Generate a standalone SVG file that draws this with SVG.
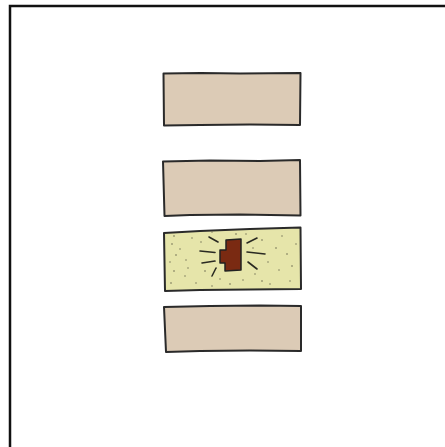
<svg xmlns="http://www.w3.org/2000/svg" width="445" height="447" viewBox="0 0 445 447">
<style>
.box{fill:#dccbb6;stroke:#2a2a2a;stroke-width:2;stroke-linejoin:round}
.ray{stroke:#2a2a22;stroke-width:1.6;stroke-linecap:round;fill:none}
.dot{fill:#6b6b50}
</style>
<rect x="0" y="0" width="445" height="447" fill="#fff"/>
<path d="M10,447 L10,6 L445,6" fill="none" stroke="#111" stroke-width="2.5"/>
<g id="block1"><path class="box" d="M163.5,73.5 L201,73 L240,73.5 L300.5,73 L300,125 L250,124.5 L200,125 L164,125.5 Z"/></g>
<g id="block2"><path class="box" d="M163,161.5 L210,160.5 L260,161 L300,160 L300.5,215.5 L240,214.5 L190,215 L164.5,216 Z"/></g>
<g id="block3">
<path d="M164,233 L200,231 L250,229 L300.5,227.5 L301,289 L250,289.5 L200,290 L165,291 Z" fill="#e6e5aa" stroke="#2a2a2a" stroke-width="2" stroke-linejoin="round"/>
<path d="M226,240 L241,239 L241,270 L225,271 L225,263 L220,263 L220,250 L226,250 Z" fill="#7a2a12" stroke="#222" stroke-width="1.5" stroke-linejoin="round"/>
<g class="ray">
<path d="M209,237 L218,242"/><path d="M200,251 L215,252.5"/><path d="M202,263 L215,261"/><path d="M212,276 L216,268"/>
<path d="M247,243 L257,238"/><path d="M247,252 L265,254"/><path d="M248,262 L257,269"/>
</g>
<g class="dot">
<circle cx="174" cy="236" r=".8"/><circle cx="192" cy="238" r=".7"/><circle cx="172" cy="244" r=".8"/><circle cx="180" cy="249" r=".7"/><circle cx="176" cy="255" r=".8"/><circle cx="170" cy="262" r=".7"/><circle cx="186" cy="260" r=".7"/><circle cx="174" cy="271" r=".8"/><circle cx="185" cy="276" r=".7"/><circle cx="171" cy="283" r=".8"/><circle cx="196" cy="283" r=".7"/><circle cx="205" cy="271" r=".8"/><circle cx="201" cy="242" r=".7"/><circle cx="220" cy="279" r=".7"/><circle cx="230" cy="284" r=".8"/><circle cx="243" cy="280" r=".7"/><circle cx="236" cy="234" r=".8"/><circle cx="246" cy="234" r=".7"/><circle cx="253" cy="248" r=".7"/><circle cx="262" cy="240" r=".8"/><circle cx="268" cy="262" r=".7"/><circle cx="276" cy="248" r=".8"/><circle cx="282" cy="236" r=".7"/><circle cx="287" cy="254" r=".8"/><circle cx="279" cy="270" r=".7"/><circle cx="292" cy="266" r=".8"/><circle cx="290" cy="281" r=".7"/><circle cx="262" cy="281" r=".8"/><circle cx="270" cy="284" r=".7"/><circle cx="255" cy="274" r=".7"/><circle cx="296" cy="244" r=".7"/><circle cx="212" cy="286" r=".7"/><circle cx="188" cy="268" r=".7"/><circle cx="212" cy="232" r=".7"/>
</g>
</g>
<g id="block4"><path class="box" d="M164,307 L210,306 L260,305.5 L301,306 L301,351 L250,350.5 L200,351 L166,352 Z"/></g>
<g id="connectors"/>
</svg>
